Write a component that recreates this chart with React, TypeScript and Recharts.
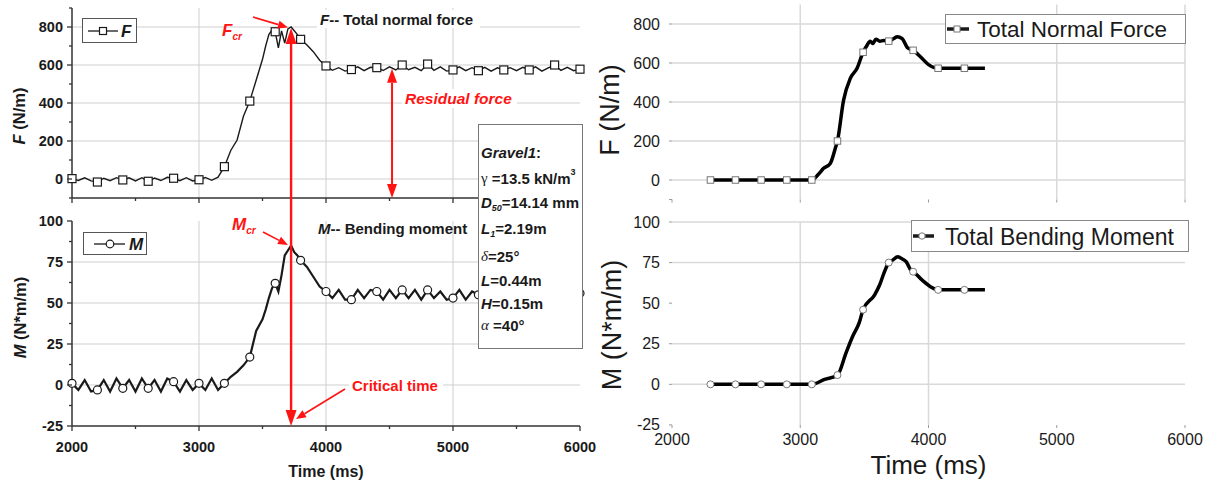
import { LineChart, Line, XAxis, YAxis, CartesianGrid } from 'recharts';

const SANS = '"Liberation Sans", Arial, Helvetica, sans-serif';
const SERIF = '"Liberation Serif", "Times New Roman", serif';
const RED = '#ff1414';
const INK = '#1a1a1a';

// ─── Measured test (left panel) ─────────────────────────────────────────────
const leftTime = [
  2000, 2050, 2100, 2150, 2200, 2250, 2300, 2350, 2400, 2450, 2500, 2550, 2600, 2650,
  2700, 2750, 2800, 2850, 2900, 2950, 3000, 3050, 3100, 3150, 3200, 3250, 3300, 3350,
  3400, 3450, 3500, 3525, 3550, 3575, 3600, 3625, 3650, 3675, 3700, 3725, 3750, 3775,
  3800, 3850, 3900, 3950, 4000, 4050, 4100, 4150, 4200, 4250, 4300, 4350, 4400, 4450,
  4500, 4550, 4600, 4650, 4700, 4750, 4800, 4850, 4900, 4950, 5000, 5050, 5100, 5150,
  5200, 5250, 5300, 5350, 5400, 5450, 5500, 5550, 5600, 5650, 5700, 5750, 5800, 5850,
  5900, 5950, 6000,
];
const leftForce = [
  2, -8, 6, -10, -16, 4, -9, 7, -5, 6, -10, 7, -12, 5,
  -8, 9, 4, -9, 7, -10, -4, 8, -7, 10, 65, 150, 205, 330,
  410, 520, 630, 700, 760, 785, 775, 690, 780, 715, 790, 800, 780, 760,
  735, 705, 670, 625, 595, 572, 586, 568, 576, 590, 570, 588, 586, 571,
  590, 574, 600, 575, 588, 570, 605, 572, 590, 568, 574, 590, 570, 586,
  570, 588, 568, 585, 574, 586, 570, 588, 574, 590, 568, 585, 600, 572,
  588, 570, 578,
];
const leftMoment = [
  1, -3, 3, -4, -3, 3, -4, 4, -2, 3, -4, 4, -2, 3,
  -4, 4, 2, -4, 3, -3, 1, -3, 4, -3, 1, 5, 8, 12,
  17, 33, 40, 46, 53, 59, 62, 57, 67, 79, 82, 85, 81, 79,
  76, 72, 66, 60, 57, 53, 58, 52, 52, 58, 53, 58, 57, 52,
  58, 53, 58, 53, 58, 52, 58, 53, 57, 52, 53, 58, 52, 57,
  55, 58, 52, 57, 55, 52, 58, 53, 57, 52, 58, 53, 57, 52,
  57, 53, 56,
];

// ─── Simulation (right panel) ───────────────────────────────────────────────
const rightForceTime = [
  2300, 2495, 2695, 2895, 3090, 3140, 3182, 3234, 3273, 3290, 3338, 3390, 3443, 3490,
  3520, 3545, 3565, 3590, 3620, 3650, 3690, 3730, 3756, 3795, 3834, 3880, 3937, 4000,
  4075, 4280, 4440,
];
const rightForce = [
  0, 0, 0, 0, 0, 28, 60, 85, 162, 200, 410, 521, 573, 655,
  690, 712, 700, 722, 712, 715, 712, 726, 735, 725, 680, 665, 632, 592,
  573, 573, 573,
];
const rightMomentTime = [
  2300, 2495, 2695, 2895, 3090, 3190, 3290, 3357, 3409, 3460, 3490, 3579, 3618, 3657,
  3690, 3720, 3760, 3800, 3826, 3865, 3880, 3953, 4018, 4075, 4280, 4440,
];
const rightMoment = [
  0, 0, 0, 0, 0, 3, 5.7, 19.4, 29.6, 38, 46, 55, 61, 69.4,
  75, 76.5, 78.6, 77, 75.5, 70, 69.4, 64, 60, 58.2, 58.2, 58.2,
];
const rightMarkerTimes = [2300, 2495, 2695, 2895, 3090, 3290, 3490, 3690, 3880, 4075, 4280];

// ─── Ticks ──────────────────────────────────────────────────────────────────
const timeTicks = [2000, 2500, 3000, 3500, 4000, 4500, 5000, 5500, 6000];
const timeMajor = [2000, 3000, 4000, 5000, 6000];
const forceTicks = [-100, 0, 100, 200, 300, 400, 500, 600, 700, 800, 900];
const forceMajor = [0, 200, 400, 600, 800];
const momentTicks = [-25, -12.5, 0, 12.5, 25, 37.5, 50, 62.5, 75, 87.5, 100];
const momentMajor = [-25, 0, 25, 50, 75, 100];
const rightForceTicks = [-100, 0, 200, 400, 600, 800];

const leftRows = leftTime.map((t, i) => ({ t, f: leftForce[i], m: leftMoment[i] }));
const rightForceRows = rightForceTime.map((t, i) => ({ t, v: rightForce[i] }));
const rightMomentRows = rightMomentTime.map((t, i) => ({ t, v: rightMoment[i] }));

// left panel plot geometry (matches chart margins / axis widths below)
const LX0 = 72, LX1 = 580;
const lx = (t: number) => LX0 + ((t - 2000) / 4000) * (LX1 - LX0);
const lfy = (v: number) => 8 + ((900 - v) / 1000) * 190;
const lmy = (v: number) => 221 + ((100 - v) / 125) * 205;

// ─── Custom ticks / dots / titles ───────────────────────────────────────────
const leftYTick = (majors: number[]) => (p: any) => {
  const major = majors.includes(p.payload.value);
  return (
    <g>
      <line x1={p.x - (major ? 5 : 3)} x2={p.x} y1={p.y} y2={p.y} stroke="#333" strokeWidth={1.3} />
      {major && (
        <text x={p.x - 9} y={p.y} textAnchor="end" dominantBaseline="central"
          fontFamily={SANS} fontWeight="bold" fontSize={14.5} fill={INK}>
          {p.payload.value}
        </text>
      )}
    </g>
  );
};

const leftXTick = (labels: boolean) => (p: any) => {
  const major = timeMajor.includes(p.payload.value);
  return (
    <g>
      <line x1={p.x} x2={p.x} y1={p.y} y2={p.y + (major ? 5 : 3)} stroke="#333" strokeWidth={1.3} />
      {labels && major && (
        <text x={p.x} y={p.y + 21} textAnchor="middle" dominantBaseline="central"
          fontFamily={SANS} fontWeight="bold" fontSize={14.5} fill={INK}>
          {p.payload.value}
        </text>
      )}
    </g>
  );
};

const rightYTick = (p: any) => {
  const v = p.payload.value;
  return (
    <text x={p.x} y={p.y} textAnchor="end" dominantBaseline="central"
      fontFamily={SANS} fontSize={16} fill={INK}>
      {v <= -100 ? '' : Math.round(v)}
    </text>
  );
};

const markerDot = (shape: 'square' | 'circle', size: number, stroke: string, sw: number,
  show: (t: number) => boolean) => (p: any) => {
  const { cx, cy, payload, index } = p;
  if (!show(payload.t)) return <g key={`n${index}`} />;
  if (shape === 'circle') {
    return <circle key={`c${index}`} cx={cx} cy={cy} r={size / 2} fill="#fff" stroke={stroke} strokeWidth={sw} />;
  }
  return <rect key={`s${index}`} x={cx - size / 2} y={cy - size / 2} width={size} height={size}
    fill="#fff" stroke={stroke} strokeWidth={sw} />;
};

const yTitle = (dx: number, dy: number, size: number, bold: boolean, content: React.ReactNode) => (p: any) => {
  const vb = p.viewBox ?? p;
  const x = vb.x + dx;
  const y = vb.y + vb.height / 2 + dy;
  return (
    <text x={x} y={y} transform={`rotate(-90 ${x} ${y})`} textAnchor="middle" dominantBaseline="central"
      fontFamily={SANS} fontWeight={bold ? 'bold' : 'normal'} fontSize={size} fill={INK}>
      {content}
    </text>
  );
};

const xTitle = (dy: number, size: number, bold: boolean) => (p: any) => {
  const vb = p.viewBox ?? p;
  return (
    <text x={vb.x + vb.width / 2} y={vb.y + dy} textAnchor="middle" dominantBaseline="central"
      fontFamily={SANS} fontWeight={bold ? 'bold' : 'normal'} fontSize={size} fill={INK}>
      Time (ms)
    </text>
  );
};

// ─── Annotation helpers ─────────────────────────────────────────────────────
function Arrow({ x1, y1, x2, y2, len = 12, half = 5, w = 2 }: {
  x1: number; y1: number; x2: number; y2: number; len?: number; half?: number; w?: number;
}) {
  const dx = x2 - x1, dy = y2 - y1;
  const d = Math.hypot(dx, dy);
  const ux = dx / d, uy = dy / d;
  const bx = x2 - ux * len, by = y2 - uy * len;
  return (
    <g>
      <line x1={x1} y1={y1} x2={bx} y2={by} stroke={RED} strokeWidth={w} />
      <polygon points={`${x2},${y2} ${bx - uy * half},${by + ux * half} ${bx + uy * half},${by - ux * half}`} fill={RED} />
    </g>
  );
}

function Overlay() {
  const cx = lx(3725);
  const rx = lx(4520);
  const txt = { fontFamily: SANS, fontWeight: 'bold' as const, fontSize: 15, fill: INK };
  const greek = { fontFamily: SERIF, fontWeight: 'normal' as const };
  return (
    <svg width={1218} height={486} style={{ position: 'absolute', left: 0, top: 0, pointerEvents: 'none' }}>
      {/* left legends */}
      <rect x={82.5} y={18.5} width={54} height={24} fill="#fff" stroke="#555" />
      <line x1={88} x2={118} y1={31} y2={31} stroke={INK} strokeWidth={1.3} />
      <rect x={99.5} y={27.5} width={7} height={7} fill="#fff" stroke={INK} strokeWidth={1.2} />
      <text x={121} y={31} dominantBaseline="central" {...txt} fontSize={17} fontStyle="italic">F</text>

      <rect x={83.5} y={232.5} width={63} height={22} fill="#fff" stroke="#555" />
      <line x1={94} x2={125} y1={244} y2={244} stroke={INK} strokeWidth={1.3} />
      <circle cx={110} cy={244} r={3.8} fill="#fff" stroke={INK} strokeWidth={1.2} />
      <text x={129} y={244} dominantBaseline="central" {...txt} fontSize={17} fontStyle="italic">M</text>

      {/* series captions */}
      <rect x={317} y={10} width={163} height={18} fill="#fff" />
      <text x={320} y={19} dominantBaseline="central" {...txt}>
        <tspan fontStyle="italic">F</tspan>-- Total normal force
      </text>
      <text x={318} y={228} dominantBaseline="central" {...txt}>
        <tspan fontStyle="italic">M</tspan>-- Bending moment
      </text>

      {/* info box */}
      <rect x={478.5} y={124.5} width={104} height={224} fill="#fff" stroke="#777" />
      <text x={481} y={152} dominantBaseline="central" {...txt}>
        <tspan fontStyle="italic">Gravel1</tspan>:
      </text>
      <text x={481} y={178} dominantBaseline="central" {...txt}>
        <tspan {...greek}>γ</tspan> =13.5 kN/m<tspan fontSize={9} dy={-6}>3</tspan>
      </text>
      <text x={481} y={202} dominantBaseline="central" {...txt}>
        <tspan fontStyle="italic">D</tspan>
        <tspan fontStyle="italic" fontSize={9} dy={6}>50</tspan>
        <tspan dy={-6}>=14.14 mm</tspan>
      </text>
      <text x={481} y={228} dominantBaseline="central" {...txt}>
        <tspan fontStyle="italic">L</tspan>
        <tspan fontStyle="italic" fontSize={9} dy={6}>1</tspan>
        <tspan dy={-6}>=2.19m</tspan>
      </text>
      <text x={481} y={256} dominantBaseline="central" {...txt}>
        <tspan {...greek} fontStyle="italic">δ</tspan>=25°
      </text>
      <text x={481} y={280} dominantBaseline="central" {...txt}>
        <tspan fontStyle="italic">L</tspan>=0.44m
      </text>
      <text x={481} y={303} dominantBaseline="central" {...txt}>
        <tspan fontStyle="italic">H</tspan>=0.15m
      </text>
      <text x={481} y={325} dominantBaseline="central" {...txt}>
        <tspan {...greek} fontStyle="italic">α</tspan> =40°
      </text>

      {/* critical time arrow */}
      <Arrow x1={cx} y1={230} x2={cx} y2={lfy(800) + 1} len={16} half={5.5} w={2.4} />
      <Arrow x1={cx} y1={230} x2={cx} y2={lmy(-25)} len={16} half={5.5} w={2.4} />
      <Arrow x1={253} y1={17} x2={288} y2={27.5} len={10} half={4} w={1.6} />
      <Arrow x1={263} y1={232} x2={288} y2={245} len={10} half={4} w={1.6} />
      <Arrow x1={345} y1={389} x2={296} y2={419} len={10} half={4} w={1.6} />

      {/* residual force arrow */}
      <Arrow x1={rx} y1={130} x2={rx} y2={lfy(580)} len={14} half={5} w={2} />
      <Arrow x1={rx} y1={130} x2={rx} y2={lfy(-100)} len={14} half={5} w={2} />

      <text x={222} y={30} dominantBaseline="central" fontFamily={SANS} fontWeight="bold" fontStyle="italic" fontSize={17} fill={RED}>
        F<tspan fontSize={10} dy={6}>cr</tspan>
      </text>
      <text x={232} y={224} dominantBaseline="central" fontFamily={SANS} fontWeight="bold" fontStyle="italic" fontSize={17} fill={RED}>
        M<tspan fontSize={10} dy={6}>cr</tspan>
      </text>
      <rect x={402} y={89} width={115} height={19} fill="#fff" />
      <text x={405} y={98} dominantBaseline="central" fontFamily={SANS} fontWeight="bold" fontStyle="italic" fontSize={15.5} fill={RED}>
        Residual force
      </text>
      <rect x={349} y={376} width={94} height={18} fill="#fff" />
      <text x={352} y={385} dominantBaseline="central" fontFamily={SANS} fontWeight="bold" fontSize={15} fill={RED}>
        Critical time
      </text>

      {/* right legends */}
      <rect x={945.5} y={14.5} width={240} height={29} fill="#fff" stroke="#888" />
      <line x1={947} x2={969} y1={29} y2={29} stroke={INK} strokeWidth={3.5} />
      <rect x={954} y={26} width={6} height={6} fill="#fff" stroke="#777" strokeWidth={1} />
      <text x={977} y={29.5} dominantBaseline="central" fontFamily={SANS} fontSize={22.5} fill={INK}>
        Total Normal Force
      </text>

      <rect x={911.5} y={220.5} width={277} height={31} fill="#fff" stroke="#888" />
      <line x1={913} x2={934} y1={236} y2={236} stroke={INK} strokeWidth={3.5} />
      <circle cx={922} cy={236} r={3.2} fill="#fff" stroke="#777" strokeWidth={1} />
      <text x={945} y={236.5} dominantBaseline="central" fontFamily={SANS} fontSize={23} fill={INK}>
        Total Bending Moment
      </text>
    </svg>
  );
}

// ─── App ────────────────────────────────────────────────────────────────────
export default function App() {
  const leftAxisLine = { stroke: '#333', strokeWidth: 1.5 };
  const rightTick = { fontSize: 16, fill: INK, fontFamily: SANS };
  return (
    <div style={{ position: 'absolute', left: 0, top: 0, width: 1218, height: 486, background: '#fff', overflow: 'hidden' }}>
      {/* left: measured F */}
      <div style={{ position: 'absolute', left: 0, top: 0 }}>
        <LineChart width={600} height={205} data={leftRows} margin={{ top: 8, right: 20, bottom: 0, left: 0 }}>
          <CartesianGrid stroke="#cfcfcf" horizontalValues={forceMajor} verticalValues={[3000, 4000, 5000]} />
          <XAxis dataKey="t" type="number" domain={[2000, 6000]} ticks={timeTicks} interval={0} height={7}
            tickSize={0} tickMargin={0} tickLine={false} axisLine={leftAxisLine} tick={leftXTick(false)} />
          <YAxis type="number" domain={[-100, 900]} ticks={forceTicks} interval={0} width={72}
            tickSize={0} tickMargin={0} tickLine={false} axisLine={leftAxisLine} tick={leftYTick(forceMajor)}
            label={yTitle(19, 13, 16.5, true, <><tspan fontStyle="italic">F</tspan> (N/m)</>)} />
          <Line dataKey="f" type="linear" stroke={INK} strokeWidth={1.4} isAnimationActive={false}
            dot={markerDot('square', 8, INK, 1.2, (t) => t % 200 === 0)} activeDot={false} />
        </LineChart>
      </div>

      {/* left: measured M */}
      <div style={{ position: 'absolute', left: 0, top: 205 }}>
        <LineChart width={600} height={281} data={leftRows} margin={{ top: 16, right: 20, bottom: 0, left: 0 }}>
          <CartesianGrid stroke="#cfcfcf" horizontalValues={[0, 25, 50, 75]} verticalValues={[3000, 4000, 5000]} />
          <XAxis dataKey="t" type="number" domain={[2000, 6000]} ticks={timeTicks} interval={0} height={60}
            tickSize={0} tickMargin={0} tickLine={false} axisLine={leftAxisLine} tick={leftXTick(true)}
            label={xTitle(45, 16, true)} />
          <YAxis type="number" domain={[-25, 100]} ticks={momentTicks} interval={0} width={72}
            tickSize={0} tickMargin={0} tickLine={false} axisLine={leftAxisLine} tick={leftYTick(momentMajor)}
            label={yTitle(19.5, -6, 16.5, true, <><tspan fontStyle="italic">M</tspan> (N*m/m)</>)} />
          <Line dataKey="m" type="linear" stroke={INK} strokeWidth={2.2} isAnimationActive={false}
            dot={markerDot('circle', 8, INK, 1.2, (t) => t % 200 === 0)} activeDot={false} />
        </LineChart>
      </div>

      {/* right: simulated F */}
      <div style={{ position: 'absolute', left: 590, top: 0 }}>
        <LineChart width={628} height={210} data={rightForceRows} margin={{ top: 4.5, right: 33, bottom: 0, left: 0 }}>
          <CartesianGrid stroke="#d9d9d9" strokeWidth={1.5} horizontalValues={forceMajor} verticalValues={[3000, 5000, 6000]} />
          <XAxis dataKey="t" type="number" domain={[2000, 6000]} ticks={timeMajor} interval={0} height={10.5}
            axisLine={false} tickLine={{ stroke: '#999' }} tickSize={3} tick={() => <g />} />
          <YAxis type="number" domain={[-100, 900]} ticks={rightForceTicks} interval={0} width={82}
            axisLine={false} tickLine={{ stroke: '#999' }} tickSize={3} tickMargin={9} tick={rightYTick}
            label={yTitle(20, 8, 27, false, 'F (N/m)')} />
          <Line dataKey="v" type="monotone" stroke="#000" strokeWidth={3.5} isAnimationActive={false}
            dot={markerDot('square', 6.5, '#777', 1, (t) => rightMarkerTimes.includes(t))} activeDot={false} />
        </LineChart>
      </div>

      {/* right: simulated M */}
      <div style={{ position: 'absolute', left: 590, top: 210 }}>
        <LineChart width={628} height={276} data={rightMomentRows} margin={{ top: 12, right: 33, bottom: 0, left: 0 }}>
          <CartesianGrid stroke="#d9d9d9" strokeWidth={1.5} horizontalValues={[0, 25, 75, 100]} verticalValues={[3000, 4000]} />
          <XAxis dataKey="t" type="number" domain={[2000, 6000]} ticks={timeMajor} interval={0} height={61}
            axisLine={false} tickLine={{ stroke: '#999' }} tickSize={3} tickMargin={6} tick={rightTick}
            label={xTitle(40, 26, false)} />
          <YAxis type="number" domain={[-25.05, 100]} ticks={momentMajor} interval={0} width={82}
            axisLine={false} tickLine={{ stroke: '#999' }} tickSize={3} tickMargin={9} tick={rightYTick}
            label={yTitle(22, 1.5, 27, false, 'M (N*m/m)')} />
          <Line dataKey="v" type="monotone" stroke="#000" strokeWidth={3.5} isAnimationActive={false}
            dot={markerDot('circle', 7, '#777', 1, (t) => rightMarkerTimes.includes(t))} activeDot={false} />
        </LineChart>
      </div>

      <Overlay />
    </div>
  );
}
